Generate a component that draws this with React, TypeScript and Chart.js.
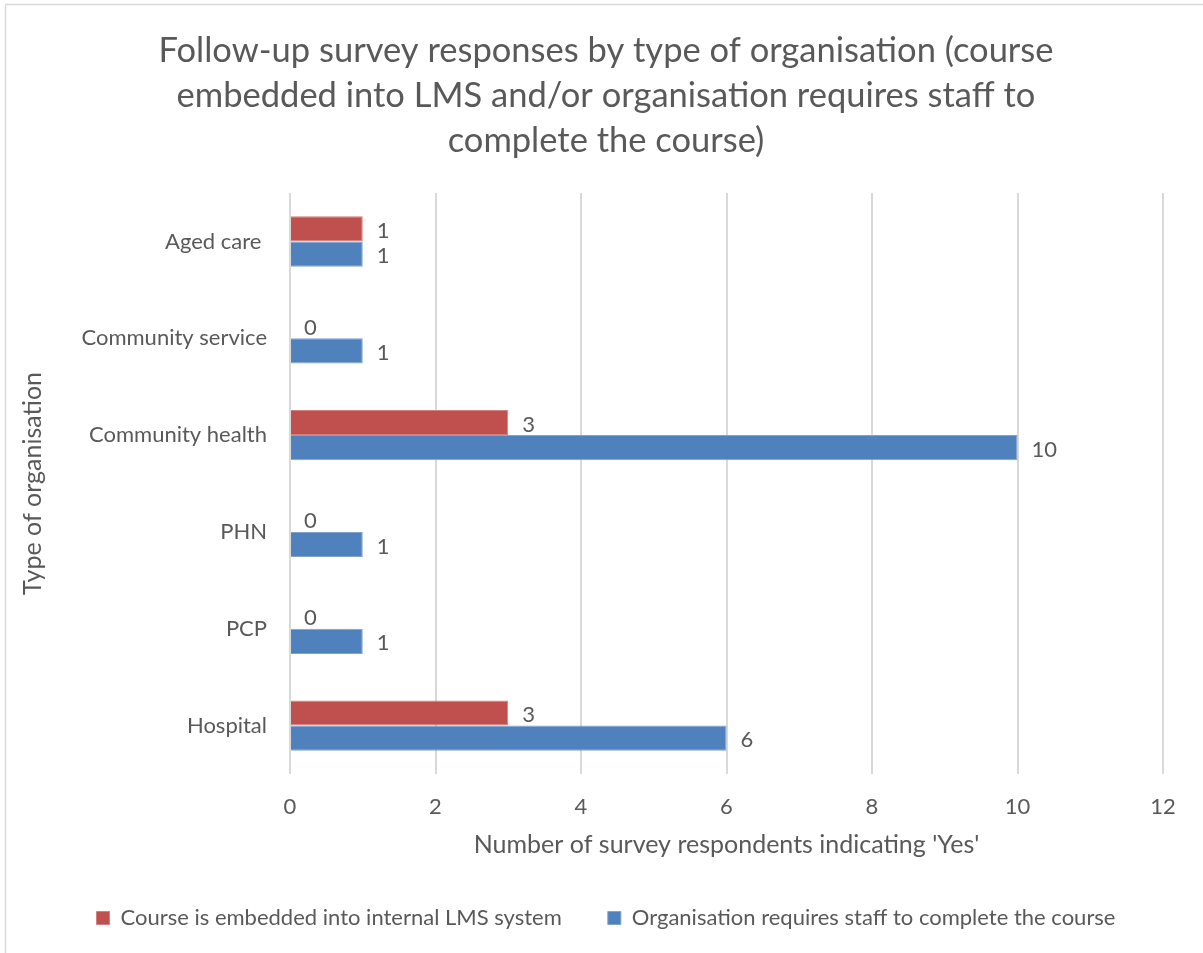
import React, { useEffect, useRef } from "react";
import { Chart, registerables } from "chart.js";

Chart.register(...registerables);

const categories = ["Aged care ", "Community service", "Community health", "PHN", "PCP", "Hospital"];
const embeddedLMS = [1, 0, 3, 0, 0, 3];
const requiresStaff = [1, 1, 10, 1, 1, 6];
const seriesNames = [
  "Course is embedded into internal LMS system",
  "Organisation requires staff to complete the course",
];
const titleLines = [
  "Follow-up survey responses by type of organisation (course",
  "embedded into LMS and/or organisation requires staff to",
  "complete the course)",
];
const xTitle = "Number of survey respondents indicating 'Yes'";
const yTitle = "Type of organisation";

const FONT = "Lato";
const TEXT = "#595959";

const labelPlugin = {
  id: "barValueLabels",
  afterDatasetsDraw(chart: any) {
    const ctx = chart.ctx;
    ctx.save();
    ctx.font = `22px ${FONT}`;
    ctx.fillStyle = TEXT;
    ctx.textAlign = "left";
    ctx.textBaseline = "middle";
    chart.data.datasets.forEach((ds: any, di: number) => {
      const meta = chart.getDatasetMeta(di);
      meta.data.forEach((bar: any, i: number) => {
        const v = ds.data[i];
        ctx.fillText(String(v), bar.x + 14, bar.y + 2);
      });
    });
    ctx.restore();
  },
};

const framePlugin = {
  id: "frame",
  beforeDraw(chart: any) {
    const ctx = chart.ctx;
    ctx.save();
    ctx.fillStyle = "#ffffff";
    ctx.fillRect(0, 0, chart.width, chart.height);
    ctx.strokeStyle = "#d9d9d9";
    ctx.lineWidth = 1.5;
    ctx.beginPath();
    ctx.moveTo(5.5, chart.height + 5);
    ctx.lineTo(5.5, 4.5);
    ctx.lineTo(chart.width + 5, 4.5);
    ctx.stroke();
    ctx.restore();
  },
};

export default function App() {
  const ref = useRef<HTMLCanvasElement>(null);
  useEffect(() => {
    if (!ref.current) return;
    const chart = new Chart(ref.current, {
      type: "bar",
      data: {
        labels: categories,
        datasets: [
          {
            label: seriesNames[0],
            data: embeddedLMS,
            backgroundColor: "#C0504D",
            borderColor: "#d27f7d",
            borderWidth: 1,
            categoryPercentage: 0.52,
            barPercentage: 1,
          },
          {
            label: seriesNames[1],
            data: requiresStaff,
            backgroundColor: "#4F81BD",
            borderColor: "#7fa2cf",
            borderWidth: 1,
            categoryPercentage: 0.52,
            barPercentage: 1,
          },
        ],
      },
      options: {
        indexAxis: "y",
        responsive: false,
        devicePixelRatio: 1,
        animation: false,
        layout: { padding: { left: 9, right: 0, top: 0, bottom: 14 } },
        scales: {
          x: {
            min: 0,
            max: 12,
            ticks: { stepSize: 2, color: TEXT, font: { family: FONT, size: 22 }, padding: 20 },
            grid: { color: "#d9d9d9", lineWidth: 2, drawTicks: false },
            border: { display: false },
            title: {
              display: true,
              text: xTitle,
              color: TEXT,
              font: { family: FONT, size: 25 },
              padding: { top: 0, bottom: 1 },
            },
            afterFit(scale: any) {
              scale.height = 87;
            },
          },
          y: {
            ticks: { color: TEXT, font: { family: FONT, size: 22 }, padding: 23 },
            grid: { display: false, drawTicks: false },
            border: { display: false },
            title: {
              display: true,
              text: yTitle,
              color: TEXT,
              font: { family: FONT, size: 25 },
              padding: { top: 9, bottom: 0 },
            },
            afterFit(scale: any) {
              scale.width = 281;
            },
          },
          y2: {
            type: "category",
            position: "right",
            display: true,
            ticks: { display: false },
            grid: { display: false, drawTicks: false },
            border: { display: false },
            afterFit(scale: any) {
              scale.width = 40;
            },
          },
        },
        plugins: {
          title: {
            display: true,
            text: titleLines,
            color: TEXT,
            font: { family: FONT, size: 34.5, weight: "normal", lineHeight: 1.304 },
            padding: { top: 28.5, bottom: 29.6 },
          },
          legend: {
            display: true,
            position: "bottom",
            labels: {
              color: TEXT,
              font: { family: FONT, size: 22 },
              boxWidth: 13,
              boxHeight: 13,
              padding: 46,
            },
          },
          tooltip: { enabled: false },
        },
      } as any,
      plugins: [framePlugin, labelPlugin],
    });
    return () => chart.destroy();
  }, []);
  return (
    <div style={{ position: "absolute", left: 0, top: 0, width: 1203, height: 953 }}>
      <canvas ref={ref} width={1203} height={953} style={{ display: "block" }} />
    </div>
  );
}
